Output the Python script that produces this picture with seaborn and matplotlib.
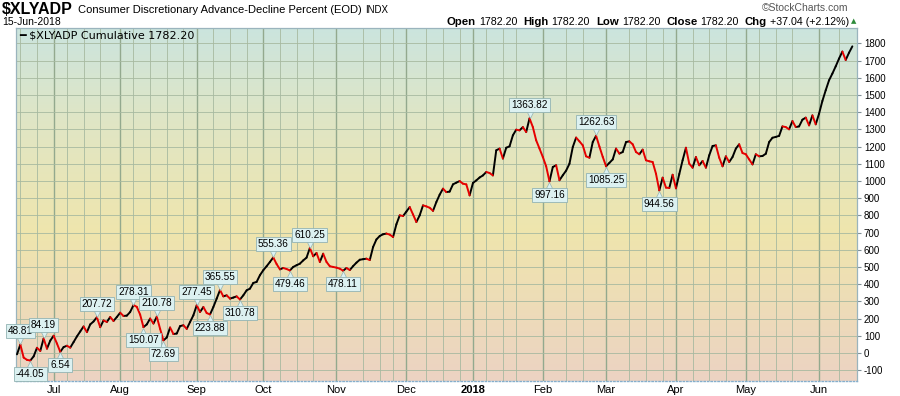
import numpy as np
import pandas as pd
import matplotlib
matplotlib.use("Agg")
import matplotlib.pyplot as plt
import matplotlib.transforms as mtransforms
import seaborn as sns
from matplotlib.colors import LinearSegmentedColormap

# trading calendar for the year shown
start_date = "2017-06-16"
end_date = "2018-06-15"
market_holidays = ["2017-07-04", "2017-09-04", "2017-11-23", "2017-12-25", "2018-01-01",
                   "2018-01-15", "2018-02-19", "2018-03-30", "2018-05-28"]

# $XLYADP cumulative, one value per trading day
cumulative = [
    -8, 48.81, -27, -40, -44.05, -20, 30, 12, 84.19, 25,
    72, 100, 55, 6.54, 34, 42, 31, 63, 96, 125,
    154, 121, 166, 183, 207.72, 150, 189, 180, 209, 186,
    209, 234, 215, 217, 238, 278.31, 268, 223, 150.07, 166,
    200, 171, 210.78, 140, 72.69, 90, 148, 110, 113, 156,
    161, 140, 180, 219, 277.45, 238, 267, 232, 223.88, 267,
    316, 365.55, 329, 335, 316, 322, 329, 310.78, 335, 364,
    374, 407, 413, 452, 481, 504, 529, 555.36, 517, 486,
    494, 488, 479.46, 500, 510, 519, 538, 554, 610.25, 562,
    581, 529, 577, 529, 504, 500, 496, 490, 478.11, 494,
    482, 505, 525, 542, 545, 548, 540, 616, 660, 680,
    690, 694, 688, 674, 748, 800, 796, 822, 848, 805,
    761, 800, 858, 852, 844, 826, 877, 920, 955, 935,
    938, 980, 990, 999, 984, 980, 916, 988, 1003, 1020,
    1032, 1052, 1046, 1032, 1178, 1188, 1130, 1193, 1201, 1265,
    1298, 1294, 1313, 1284, 1363.82, 1313, 1236, 1188, 1139, 1085,
    997.16, 1081, 1091, 1004, 1033, 1060, 1100, 1197, 1252, 1230,
    1207, 1143, 1135, 1226, 1262.63, 1200, 1140, 1085.25, 1105, 1125,
    1188, 1159, 1168, 1226, 1230, 1213, 1168, 1155, 1182, 1120,
    1114, 1110, 1042, 944.56, 1019, 961, 959, 1036, 957, 1040,
    1120, 1193, 1100, 1077, 1139, 1091, 1116, 1077, 1149, 1203,
    1207, 1135, 1085, 1143, 1110, 1139, 1188, 1213, 1162, 1155,
    1125, 1096, 1155, 1143, 1145, 1158, 1226, 1251, 1256, 1262,
    1317, 1313, 1300, 1348, 1313, 1317, 1356, 1368, 1323, 1381,
    1329, 1391, 1465, 1527, 1585, 1624, 1666, 1711, 1752, 1703,
    1745.16, 1782.20,
]

peak_labels = [48.81, 84.19, 207.72, 278.31, 210.78, 277.45, 365.55, 555.36, 610.25, 1363.82, 1262.63]
trough_labels = [-44.05, 6.54, 150.07, 72.69, 223.88, 310.78, 479.46, 478.11, 997.16, 1085.25, 944.56]

month_labels = ["Jul", "Aug", "Sep", "Oct", "Nov", "Dec", "2018", "Feb", "Mar", "Apr", "May", "Jun"]
y_ticks = list(range(-100, 1900, 100))

dates = pd.bdate_range(start_date, end_date).difference(pd.to_datetime(market_holidays))
df = pd.DataFrame({"date": dates[:len(cumulative)], "value": cumulative})
df["idx"] = np.arange(len(df))

# split the line into up (black) / down (red) segments
rows = []
for k in range(1, len(df)):
    d = "down" if cumulative[k] < cumulative[k - 1] else "up"
    rows.append((k - 1, cumulative[k - 1], k, d))
    rows.append((k, cumulative[k], k, d))
seg = pd.DataFrame(rows, columns=["idx", "value", "seg", "dir"])

HEAD = "Liberation Sans"
W, H = 900, 396
fig = plt.figure(figsize=(W / 100, H / 100), dpi=100)
fig.patch.set_facecolor("white")
ax = fig.add_axes([16 / W, 1 - 381 / H, (857 - 16) / W, (381 - 28) / H])

# background gradient
grad_cmap = LinearSegmentedColormap.from_list(
    "sc", [(0.0, "#ecd3c3"), (0.42, "#efe5ad"), (0.75, "#dfe6c6"), (1.0, "#cbe4de")])
ax.imshow(np.linspace(0, 1, 256).reshape(-1, 1), extent=[0, 1, 0, 1], origin="lower",
          transform=ax.transAxes, aspect="auto", cmap=grad_cmap, zorder=0)

# grid
month_starts = df.groupby(df["date"].dt.to_period("M"))["idx"].first().values[1:]
week_starts = df.groupby(df["date"].dt.to_period("W"))["idx"].first().values
for w in week_starts:
    if w == 0 or np.min(np.abs(month_starts - w)) <= 3:
        continue
    ax.axvline(w, color="#a7b9a0", lw=0.6, zorder=1)
for m in month_starts:
    ax.axvline(m, color="#93a98e", lw=1.0, zorder=1)
for yt in y_ticks:
    ax.axhline(yt, color="#a7b9a0", lw=0.6, zorder=1)

sns.lineplot(data=seg, x="idx", y="value", hue="dir", units="seg", estimator=None,
             palette={"up": "black", "down": "#e60000"}, linewidth=1.4, legend=False,
             sort=False, ax=ax, zorder=3, solid_capstyle="round")

# value call-outs: box plus a small pointer triangle (pointer sits under the box)
BOX_FC, BOX_EC = "#dcf1f1", "#93b3b3"
box = dict(boxstyle="square,pad=0.2", fc=BOX_FC, ec=BOX_EC, lw=0.6)
up_off = mtransforms.offset_copy(ax.transData, fig=fig, x=0, y=3.2, units="points")
dn_off = mtransforms.offset_copy(ax.transData, fig=fig, x=0, y=-3.2, units="points")
for val in peak_labels:
    k = cumulative.index(val)
    ax.plot([k], [val], marker="v", ms=6, mfc=BOX_FC, mec=BOX_EC, mew=0.5,
            transform=up_off, zorder=4, clip_on=False)
    ax.annotate(f"{val:.2f}", xy=(k, val), xytext=(0, 6), textcoords="offset points",
                ha="center", va="bottom", fontsize=7.2, family=HEAD,
                bbox=box, zorder=6, annotation_clip=False)
for val in trough_labels:
    k = cumulative.index(val)
    ax.plot([k], [val], marker="^", ms=6, mfc=BOX_FC, mec=BOX_EC, mew=0.5,
            transform=dn_off, zorder=4, clip_on=False)
    ax.annotate(f"{val:.2f}", xy=(k, val), xytext=(0, -6), textcoords="offset points",
                ha="center", va="top", fontsize=7.2, family=HEAD,
                bbox=box, zorder=6, annotation_clip=False)

ax.set_xlim(-0.3, 252.4)
ax.set_ylim(-163, 1889)
ax.yaxis.tick_right()
ax.set_yticks(y_ticks)
ax.set_yticklabels([str(v) for v in y_ticks], fontsize=7, family=HEAD)
ax.tick_params(axis="y", length=3, color="#7f8f95", pad=2)
ax.set_xticks(month_starts)
ax.set_xticklabels(month_labels, fontsize=8, family=HEAD)
for lbl in ax.get_xticklabels():
    if lbl.get_text() == "2018":
        lbl.set_fontweight("bold")
ax.tick_params(axis="x", length=0, pad=3)
ax.set_xlabel("")
ax.set_ylabel("")
for side in ["left", "right", "top"]:
    ax.spines[side].set_color("#9ab4bd")
    ax.spines[side].set_linewidth(0.9)
ax.spines["bottom"].set_color("#86aecb")
ax.spines["bottom"].set_linestyle((0, (1, 1.5)))
ax.spines["bottom"].set_linewidth(1.0)

# legend line inside the panel
fig.text(19 / W, 1 - 35 / H, "\u2501 \\$XLYADP Cumulative 1782.20", fontsize=8,
         family="DejaVu Sans", va="center", ha="left")


def text_row(x_px, y_px, pieces, align="left"):
    r = fig.canvas.get_renderer()
    objs = [fig.text(0, 1 - y_px / H, s, va="center", ha="left", **kw) for s, kw, _ in pieces]
    widths = [o.get_window_extent(r).width for o in objs]
    total = sum(widths) + sum(g for _, _, g in pieces[:-1])
    x = x_px if align == "left" else x_px - total
    for o, w, (_, _, g) in zip(objs, widths, pieces):
        o.set_x(x / W)
        x += w + g


text_row(2, 10, [
    ("\\$XLYADP", dict(fontsize=11.5, fontweight="bold", family=HEAD), 5),
    ("Consumer Discretionary Advance-Decline Percent (EOD)", dict(fontsize=8, family=HEAD), 4),
    ("INDX", dict(fontsize=7, family=HEAD), 0),
])
fig.text(2 / W, 1 - 22 / H, "15-Jun-2018", fontsize=7.5, family=HEAD, va="center")
fig.text(848 / W, 1 - 8 / H, "\u00a9StockCharts.com", fontsize=7.5, family=HEAD,
         color="#555555", va="center", ha="right")
bold = dict(fontsize=8.2, fontweight="bold", family=HEAD)
norm = dict(fontsize=7.7, family=HEAD)
text_row(849, 22, [
    ("Open", bold, 3), ("1782.20", norm, 6),
    ("High", bold, 3), ("1782.20", norm, 6),
    ("Low", bold, 3), ("1782.20", norm, 6),
    ("Close", bold, 3), ("1782.20", norm, 6),
    ("Chg", bold, 3), ("+37.04 (+2.12%)", norm, 0),
], align="right")
fig.text(851 / W, 1 - 21 / H, "\u25b2", fontsize=5, color="#2e8b3a", va="center", ha="left",
         family="DejaVu Sans")

fig.savefig("out.png", dpi=100)
